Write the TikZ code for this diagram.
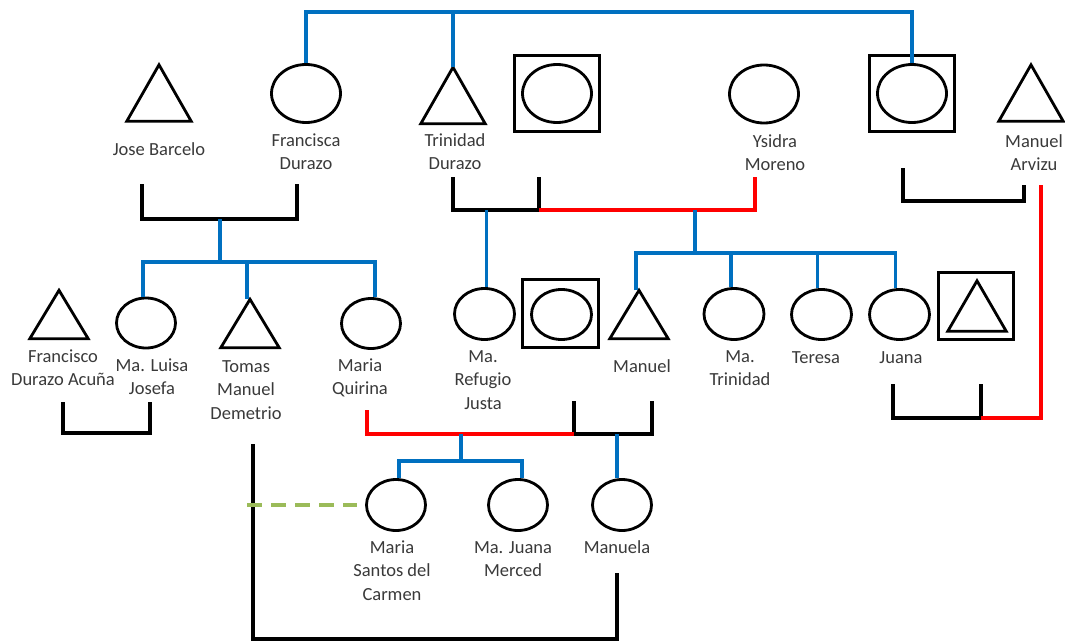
\documentclass[tikz,border=0pt]{standalone}
\usepackage{fontspec}
\setmainfont{Carlito}
\usetikzlibrary{shapes.geometric}

\definecolor{pedblue}{HTML}{0070C0}
\definecolor{pedred}{HTML}{FF0000}
\definecolor{pedgreen}{HTML}{9BBB59}
\definecolor{pedtext}{HTML}{3A3A3A}

\tikzset{
  female/.style={ellipse, draw=black, line width=2.8pt, inner sep=0pt,
    minimum width=59pt, minimum height=50pt},
  bigfemale/.style={female, minimum width=69pt, minimum height=58pt},
  male/.style={rectangle, inner sep=0pt, minimum width=58pt, minimum height=48pt,
    append after command={\pgfextra{\draw[line width=2.8pt, line join=miter]
      (\tikzlastnode.south west) -- (\tikzlastnode.north)
      -- (\tikzlastnode.south east) -- cycle;}}},
  bigmale/.style={male, minimum width=64pt, minimum height=56pt},
  deceased/.style={rectangle, draw=black, line width=2.8pt, inner sep=0pt},
  bluelink/.style={draw=pedblue, line width=3.3pt},
  redlink/.style={draw=pedred, line width=3.3pt},
  marriage/.style={draw=black, line width=3.3pt},
  lbl/.style={font=\fontsize{18.5}{23.5}\selectfont, text=pedtext, align=center,
    inner sep=0pt, anchor=north},
}

\begin{document}
\begin{tikzpicture}[x=1pt, y=-1pt]
\fill[white] (0,0) rectangle (1065,642);
\useasboundingbox (0,0) rectangle (1065,642);

% ---------- first generation ----------
\node[bigmale]   (jose)      at (159,93)    {};
\node[bigfemale] (francisca) at (306,93.5)  {};
\node[bigmale]   (trinidad)  at (453,95.5)  {};
\node[deceased, minimum width=85pt, minimum height=76pt] (boxA) at (557,93.5) {};
\node[bigfemale] (boxAin)    at (boxA)      {};
\node[bigfemale] (ysidra)    at (764,94)    {};
\node[deceased, minimum width=85pt, minimum height=76pt] (boxB) at (912,93.5) {};
\node[bigfemale] (boxBin)    at (boxB)      {};
\node[bigmale]   (arvizu)    at (1031,93)   {};

\node[lbl] (tJose)      at (159,141)  {\rule{0pt}{14pt}Jose Barcelo};
\node[lbl] (tFrancisca) at (306,132)  {\rule{0pt}{14pt}Francisca\\Durazo};
\node[lbl] (tTrinidad)  at (455,132)  {\rule{0pt}{14pt}Trinidad\\Durazo};
\node[lbl] (tYsidra)    at (775,133)  {\rule{0pt}{14pt}Ysidra\\Moreno};
\node[lbl] (tArvizu)    at (1034,133) {\rule{0pt}{14pt}Manuel\\Arvizu};

% ---------- second generation ----------
\node[male]   (francisco) at (59,314.5)   {};
\node[female] (luisa)     at (146,323)    {};
\node[male]   (tomas)     at (250,323.5)  {};
\node[female] (quirina)   at (371,323.5)  {};
\node[female, minimum width=60pt, minimum height=51pt] (refugio) at (484.5,314) {};
\node[deceased, minimum width=76pt, minimum height=68pt] (boxC) at (560.5,313.5) {};
\node[female, minimum width=60pt] (boxCin) at (561.5,314.5) {};
\node[male]   (manuel)    at (639,314.5)  {};
\node[female, minimum width=60pt, minimum height=51pt] (matrinidad) at (734,314) {};
\node[female, minimum width=60pt] (teresa) at (821.5,314.5) {};
\node[female, minimum width=60pt] (juana)  at (899.5,314.5) {};
\node[deceased, minimum width=75pt, minimum height=67pt] (boxD) at (976,306) {};
\node[male, minimum height=50pt] (boxDin) at (977,306) {};

\node[lbl] (tFrancisco) at (63,348)  {\rule{0pt}{14pt}Francisco\\Durazo Acuña};
\node[lbl] (tLuisa)     at (152,357) {\rule{0pt}{14pt}Ma. Luisa\\Josefa};
\node[lbl] (tTomas)     at (246,358) {\rule{0pt}{14pt}Tomas\\Manuel\\Demetrio};
\node[lbl] (tQuirina)   at (360,357) {\rule{0pt}{14pt}Maria\\Quirina};
\node[lbl] (tRefugio)   at (483,348) {\rule{0pt}{14pt}Ma.\\Refugio\\Justa};
\node[lbl] (tManuel)    at (642,358) {\rule{0pt}{14pt}Manuel};
\node[lbl] (tMaTrin)    at (740,348) {\rule{0pt}{14pt}Ma.\\Trinidad};
\node[lbl] (tTeresa)    at (816,349) {\rule{0pt}{14pt}Teresa};
\node[lbl] (tJuana)     at (901,349) {\rule{0pt}{14pt}Juana};

% ---------- third generation ----------
\node[female, minimum height=51pt] (santos)  at (396,505) {};
\node[female, minimum height=51pt] (juanam)  at (518,505) {};
\node[female, minimum height=51pt] (manuela) at (622,505) {};

\node[lbl] (tSantos)  at (392,539) {\rule{0pt}{14pt}Maria\\Santos del\\Carmen};
\node[lbl] (tJuanaM)  at (513,539) {\rule{0pt}{14pt}Ma. Juana\\Merced};
\node[lbl] (tManuela) at (617,539) {\rule{0pt}{14pt}Manuela};

% ---------- sibship of the first generation ----------
\coordinate (topbar) at (453,12);
\draw[bluelink] (francisca.north) |- (topbar) -| (boxBin.north);
\draw[bluelink] (topbar) -- (trinidad.north);

% ---------- Jose Barcelo + Francisca Durazo ----------
\coordinate (jbL) at (142,184);
\coordinate (jbR) at (297,184);
\coordinate (jbM) at (220,219);
\coordinate (sibA) at (220,262);
\draw[marriage] (jbL) |- (jbM) -| (jbR);
\draw[bluelink] (jbM) -- (sibA);
\draw[bluelink] ([xshift=-3pt]luisa.north) |- (sibA) -| ([xshift=4pt]quirina.north);
\draw[bluelink] ([xshift=-3pt]tomas.north |- sibA) -- ([xshift=-3pt]tomas.north);

% ---------- Trinidad Durazo, his unions ----------
\coordinate (tbL) at (453,177);
\coordinate (tbR) at (539,177);
\coordinate (tbLow) at (539,210);
\coordinate (ysTop) at (755,177);
\coordinate (sibB) at (695,253);
\draw[marriage] (tbL) |- (tbLow) -- (tbR);
\draw[redlink] (tbLow) -| (ysTop);
\draw[bluelink] ([xshift=2pt]refugio.north |- tbLow) -- ([xshift=2pt]refugio.north);
\draw[bluelink] (sibB |- tbLow) -- (sibB);
\draw[bluelink] ([xshift=-3pt]manuel.north) |- (sibB) -| ([xshift=-4pt]juana.north);
\draw[bluelink] ([xshift=-3pt]matrinidad.north |- sibB) -- ([xshift=-3pt]matrinidad.north);
\draw[bluelink] ([xshift=-4pt]teresa.north |- sibB) -- ([xshift=-4pt]teresa.north);

% ---------- Manuel Arvizu ----------
\coordinate (abL) at (903,168);
\coordinate (abR) at (1024,185);
\coordinate (abLow) at (1024,201);
\draw[marriage] (abL) |- (abLow) -- (abR);
\coordinate (arTop) at (1041,185);
\coordinate (jnL) at (893,384);
\coordinate (jnR) at (981,384);
\coordinate (jnLow) at (981,418);
\draw[marriage] (jnL) |- (jnLow) -- (jnR);
\draw[redlink] (arTop) |- (jnLow);

% ---------- Francisco Durazo Acuña + Ma. Luisa Josefa ----------
\coordinate (fbL) at (63,402);
\coordinate (fbR) at (150,402);
\coordinate (fbLow) at (150,433);
\draw[marriage] (fbL) |- (fbLow) -- (fbR);

% ---------- Manuel, his unions ----------
\coordinate (qTop) at (367,410);
\coordinate (mbL) at (574,401);
\coordinate (mbR) at (652,401);
\coordinate (mbLow) at (574,434);
\coordinate (sibC) at (461,461);
\draw[marriage] (mbL) -- (mbLow) -| (mbR);
\draw[redlink] (qTop) |- (mbLow);
\draw[bluelink] (sibC |- mbLow) -- (sibC);
\draw[bluelink] ([xshift=3pt]santos.north) |- (sibC) -| ([xshift=4pt]juanam.north);
\draw[bluelink] ([xshift=-5pt]manuela.north |- mbLow) -- ([xshift=-5pt]manuela.north);

% ---------- Tomas Manuel Demetrio + Manuela ----------
\coordinate (tmTop) at (253,444);
\coordinate (mlTop) at (617,573);
\coordinate (bottomrow) at (0,639);
\draw[marriage] (tmTop) |- (mlTop |- bottomrow) -- (mlTop);

% ---------- dashed link ----------
\coordinate (dashEnd) at (247,505);
\draw[draw=pedgreen, line width=3.3pt, dash pattern=on 15pt off 9pt,
  shorten >=8.5pt] (dashEnd) -- (santos.west);
\end{tikzpicture}
\end{document}
